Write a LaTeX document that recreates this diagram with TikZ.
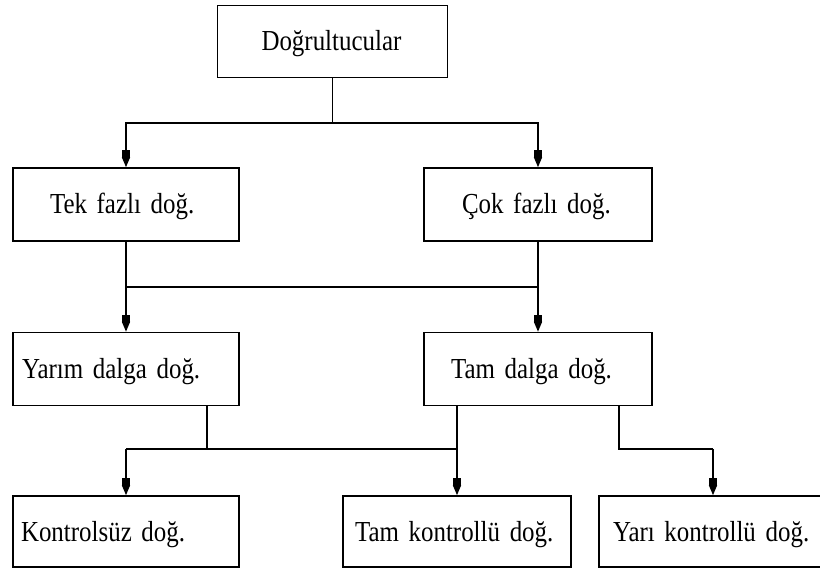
\documentclass[tikz,border=0pt]{standalone}
\usepackage{fontspec}
\setmainfont{Liberation Serif}[FakeStretch=0.86]
\usetikzlibrary{arrows.meta}
\begin{document}
\begin{tikzpicture}[x=1pt,y=-1pt,line width=1.4pt,
  bx/.style n args={3}{draw, rectangle, line width=1.6pt, text width=#1,
    minimum height=#2, inner xsep=0pt, inner ysep=0pt, align=left,
    font=\fontsize{29}{30}\selectfont, text height=25pt, text depth=6pt,
    execute at begin node={\hspace*{#3}}},
  arr/.style={-{Square[length=7pt,width=8pt,sep=0pt]Triangle[length=10pt,width=8pt]}}]
\useasboundingbox (0,0) rectangle (820,569);
% boxes
\node[bx={230pt}{72pt}{44pt}] (top) at (332.5,41.5) {Doğrultucular};
\node[bx={226pt}{73pt}{37pt}] (tek) at (126,204.5) {Tek fazlı doğ.};
\node[bx={228pt}{73pt}{38pt}] (cok) at (538,204.5) {Çok fazlı doğ.};
\node[bx={226pt}{73pt}{9pt}] (yarim) at (126,369) {Yarım dalga doğ.};
\node[bx={228pt}{73pt}{27pt}] (tam) at (538,369) {Tam dalga doğ.};
\node[bx={226pt}{71pt}{8pt}] (kont) at (126,531.5) {Kontrolsüz doğ.};
\node[bx={228pt}{71pt}{12pt}] (tamk) at (457,531.5) {Tam kontrollü doğ.};
\node[bx={223pt}{71pt}{14pt}] (yarik) at (710.5,531.5) {Yarı kontrollü doğ.};
% level 1
\coordinate (j1) at (332.5,123);
\draw (top) -- (j1);
\draw[arr] (j1) -| (tek);
\draw[arr] (j1) -| (cok);
% level 2
\coordinate (h1) at (126,287);
\coordinate (h2) at (538,287);
\draw[arr] (tek) -- (yarim);
\draw[arr] (cok) -- (tam);
\draw (h1) -- (h2);
% level 3
\coordinate (ya) at (207,449);
\coordinate (hb1) at (126,449);
\coordinate (hb2) at (457,449);
\coordinate (tb) at (619,449);
\coordinate (tc) at (713,449);
\draw (yarim.south -| ya) -- (ya);
\draw (hb1) -- (hb2);
\draw[arr] (hb1) -- (kont);
\draw[arr] (tam.south -| tamk) -- (tamk);
\draw (tam.south -| tb) -- (tb) -- (tc);
\draw[arr] (tc) -- (tc |- yarik.north);
\end{tikzpicture}
\end{document}
